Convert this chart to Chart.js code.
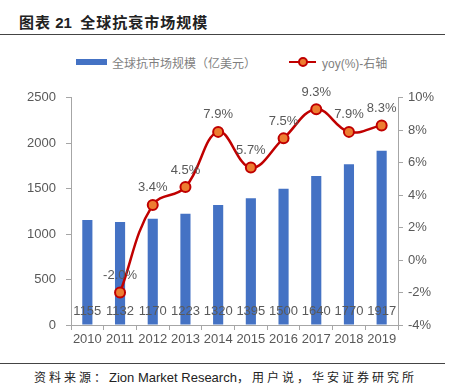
<!DOCTYPE html>
<html>
<head>
<meta charset="utf-8">
<script src="https://cdn.jsdelivr.net/npm/chart.js@4.4.1/dist/chart.umd.min.js"></script>
<style>
  body { margin: 0; background: #fff; width: 456px; height: 386px; position: relative; overflow: hidden;
         font-family: "Liberation Sans", "Noto Sans CJK SC", sans-serif; }
  #titulo { position: absolute; left: 19px; top: 11px; font-family: "Liberation Sans", "Noto Sans CJK SC";
            font-weight: bold; font-size: 15px; color: #222; white-space: nowrap; }
  #titulo .cjk { letter-spacing: 1px; }
  .linha { position: absolute; left: 0; width: 445px; height: 1px; background: #444; }
  #legenda { position: absolute; top: 53px; left: 0; width: 456px; height: 18px; font-size: 12px; color: #7f7f7f; }
  #legenda .barra { position: absolute; left: 76px; top: 6px; width: 31px; height: 6px; background: #4472C4; }
  #legenda .txt1 { position: absolute; left: 112px; top: 1px; font-family: "Noto Sans CJK SC"; white-space: nowrap; }
  #legenda .traco { position: absolute; left: 289px; top: 8px; width: 27px; height: 2px; background: #C00000; }
  #legenda .ponto { position: absolute; left: 298px; top: 4px; width: 6px; height: 6px; border-radius: 50%;
                    background: #ED7D31; border: 2px solid #C00000; }
  #legenda .txt2 { position: absolute; left: 322px; top: 1px; white-space: nowrap; font-family: "Liberation Sans", "Noto Sans CJK SC"; }
  #fonte { position: absolute; left: 34px; top: 368px; font-size: 13px; color: #222; white-space: nowrap; }
  #fonte .cjk { font-family: "Noto Sans CJK SC"; font-size: 12px; letter-spacing: 3px; }
  #grafico { position: absolute; left: 0; top: 80px; }
</style>
</head>
<body>
<div id="titulo"><span class="cjk">图表</span> 21&nbsp; <span class="cjk">全球抗衰市场规模</span></div>
<div class="linha" style="top:34px"></div>
<div id="legenda">
  <div class="barra"></div><div class="txt1">全球抗市场规模（亿美元）</div>
  <div class="traco"></div><div class="ponto"></div><div class="txt2">yoy(%)-右轴</div>
</div>
<canvas id="grafico" width="456" height="270"></canvas>
<div class="linha" style="top:363px"></div>
<div id="fonte"><span class="cjk">资料来源：</span>Zion Market Research<span class="cjk">，用户说，华安证券研究所</span></div>

<script>
// dados do gráfico
const anos = ['2010', '2011', '2012', '2013', '2014', '2015', '2016', '2017', '2018', '2019'];
const mercado = [1155, 1132, 1170, 1223, 1320, 1395, 1500, 1640, 1770, 1917];
const yoy = [null, -2.0, 3.4, 4.5, 7.9, 5.7, 7.5, 9.3, 7.9, 8.3];
const ticksEsquerda = [0, 500, 1000, 1500, 2000, 2500];
const ticksDireita = [-4, -2, 0, 2, 4, 6, 8, 10];

const cinza = '#595959';
const eixo = '#A6A6A6';
const fonteNum = { family: 'Liberation Sans', size: 13 };

// Plugin simples para escrever os valores (não há chartjs-plugin-datalabels)
const rotulos = {
    id: 'rotulos',
    afterDatasetsDraw(chart) {
        const ctx = chart.ctx;
        ctx.save();
        ctx.font = '13px "Liberation Sans"';
        ctx.fillStyle = cinza;
        ctx.textAlign = 'center';
        ctx.textBaseline = 'middle';
        const base = chart.chartArea.bottom;
        chart.getDatasetMeta(0).data.forEach((el, i) => {
            ctx.fillText(String(mercado[i]), el.x, base - 14);
        });
        chart.getDatasetMeta(1).data.forEach((el, i) => {
            if (yoy[i] === null) return;
            ctx.fillText(yoy[i].toFixed(1) + '%', el.x, el.y - 17);
        });
        ctx.restore();
    }
};

new Chart(document.getElementById('grafico'), {
    type: 'bar',
    data: {
        labels: anos,
        datasets: [{
            type: 'bar',
            label: '全球抗市场规模（亿美元）',
            data: mercado,
            backgroundColor: '#4472C4',
            barPercentage: 0.62,
            categoryPercentage: 0.5,
            yAxisID: 'y',
            order: 2
        }, {
            type: 'line',
            label: 'yoy(%)-右轴',
            data: yoy,
            borderColor: '#C00000',
            borderWidth: 2.5,
            tension: 0.4,
            pointRadius: 5,
            pointBackgroundColor: '#ED7D31',
            pointBorderColor: '#C00000',
            pointBorderWidth: 2,
            yAxisID: 'y1',
            order: 1
        }]
    },
    options: {
        responsive: false,
        devicePixelRatio: 1,
        animation: false,
        layout: { padding: { top: 11, left: 0, right: 0, bottom: 0 } },
        plugins: { legend: { display: false }, tooltip: { enabled: false } },
        scales: {
            x: {
                grid: { display: true, drawOnChartArea: false, drawTicks: true, tickLength: 5, color: eixo, offset: true },
                border: { color: eixo, width: 1 },
                ticks: { color: cinza, font: fonteNum, padding: 2, maxRotation: 0 },
                afterFit(s) { s.height = 25; }
            },
            y: {
                position: 'left',
                min: 0, max: 2500,
                afterBuildTicks(s) { s.ticks = ticksEsquerda.map(v => ({ value: v })); },
                grid: { drawOnChartArea: false, drawTicks: true, tickLength: 5, color: eixo },
                border: { color: eixo, width: 1 },
                ticks: { color: cinza, font: fonteNum, padding: 10, callback: v => String(v) },
                afterFit(s) { s.width = 71; }
            },
            y1: {
                position: 'right',
                min: -4, max: 10,
                afterBuildTicks(s) { s.ticks = ticksDireita.map(v => ({ value: v })); },
                grid: { drawOnChartArea: false, drawTicks: true, tickLength: 5, color: eixo },
                border: { color: eixo, width: 1 },
                ticks: { color: cinza, font: fonteNum, padding: 5, callback: v => v + '%' },
                afterFit(s) { s.width = 58; }
            }
        }
    },
    plugins: [rotulos]
});
</script>
</body>
</html>
